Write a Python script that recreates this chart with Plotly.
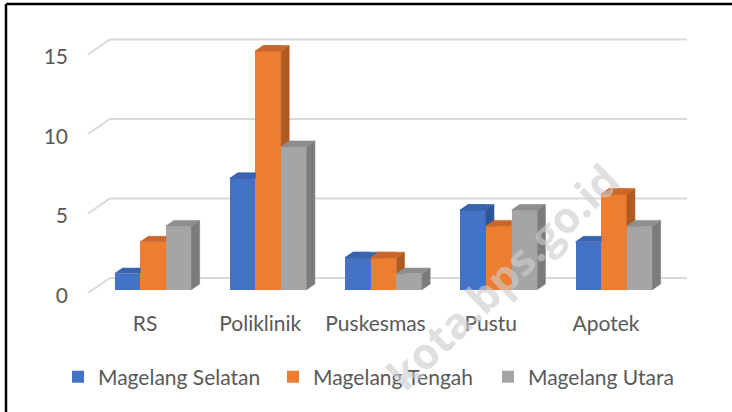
import plotly.graph_objects as go

# ---- data ----
categories = ["RS", "Poliklinik", "Puskesmas", "Pustu", "Apotek"]
series_names = ["Magelang Selatan", "Magelang Tengah", "Magelang Utara"]
selatan = [1, 7, 2, 5, 3]
tengah = [3, 15, 2, 4, 6]
utara = [4, 9, 1, 5, 4]
y_ticks = [0, 5, 10, 15]

series_values = [selatan, tengah, utara]
front_colors = ["#4472C4", "#ED7D31", "#A5A5A5"]
side_colors = ["#2E5597", "#AE5A21", "#7B7B7B"]
top_colors = ["#3A63AE", "#C9672A", "#8E8E8E"]

# ---- geometry (layout / styling) ----
W, H = 732, 412
L, R, T, B = 75, 20, 20, 110
PX0, PX1 = L, W - R
PY0, PY1 = T, H - B
X_ORIGIN_PX, X_STEP_PX = 145.0, 115.25     # category label centre pixel, spacing
Y_ZERO_PX, Y_UNIT_PX = 289.5, 15.9
x_range = [(PX0 - X_ORIGIN_PX) / X_STEP_PX, (PX1 - X_ORIGIN_PX) / X_STEP_PX]
y_range = [(Y_ZERO_PX - PY1) / Y_UNIT_PX, (Y_ZERO_PX - PY0) / Y_UNIT_PX]

bw = 25.7 / X_STEP_PX         # bar width (x units)
group_shift = 0.07
dx = 8.0 / X_STEP_PX          # depth offset
dy = 5.5 / Y_UNIT_PX

grid_front_x = (88 - X_ORIGIN_PX) / X_STEP_PX
grid_back_x = (110 - X_ORIGIN_PX) / X_STEP_PX
grid_right_x = (687 - X_ORIGIN_PX) / X_STEP_PX
grid_front_dy = (Y_ZERO_PX - 293) / Y_UNIT_PX
grid_back_dy = (Y_ZERO_PX - 278) / Y_UNIT_PX


def paper_x(px):
    return (px - PX0) / (PX1 - PX0)


def paper_y(py):
    return (PY1 - py) / (PY1 - PY0)


def clip(poly, inside, intersect):
    out = []
    n = len(poly)
    for k in range(n):
        cur, prev = poly[k], poly[k - 1]
        ci, pi = inside(cur), inside(prev)
        if ci:
            if not pi:
                out.append(intersect(prev, cur))
            out.append(cur)
        elif pi:
            out.append(intersect(prev, cur))
    return out


def clip_y_ge(poly, yv):
    def inter(a, b):
        t = (yv - a[1]) / (b[1] - a[1])
        return (a[0] + t * (b[0] - a[0]), yv)
    return clip(poly, lambda p: p[1] >= yv - 1e-12, inter)


def clip_x_le(poly, xv):
    def inter(a, b):
        t = (xv - a[0]) / (b[0] - a[0])
        return (xv, a[1] + t * (b[1] - a[1]))
    return clip(poly, lambda p: p[0] <= xv + 1e-12, inter)


fig = go.Figure()

# 3D faces (side + top), clipped where the next bar's front face covers them
for j, vals in enumerate(series_values):
    for i, v in enumerate(vals):
        c = i + group_shift + (j - 1) * bw
        xl, xr = c - bw / 2, c + bw / 2
        side = [(xr, 0), (xr + dx, dy), (xr + dx, v + dy), (xr, v)]
        top = [(xl, v), (xr, v), (xr + dx, v + dy), (xl + dx, v + dy)]
        pieces = []
        if j < len(series_values) - 1:
            vn = series_values[j + 1][i]
            p = clip_y_ge(side, vn)
            if len(p) >= 3:
                pieces.append((p, side_colors[j]))
            p1 = clip_x_le(top, xr)
            if len(p1) >= 3:
                pieces.append((p1, top_colors[j]))
            p2 = clip_y_ge(top, vn)
            if len(p2) >= 3:
                pieces.append((p2, top_colors[j]))
        else:
            pieces.append((side, side_colors[j]))
            pieces.append((top, top_colors[j]))
        for poly, col in pieces:
            xs = [p[0] for p in poly] + [poly[0][0]]
            ys = [p[1] for p in poly] + [poly[0][1]]
            fig.add_trace(go.Scatter(
                x=xs, y=ys, mode="lines", fill="toself", fillcolor=col,
                line=dict(color=col, width=0.6), showlegend=False,
                hoverinfo="skip"))

# front faces (bars)
for j, vals in enumerate(series_values):
    fig.add_trace(go.Bar(
        x=[i + group_shift + (j - 1) * bw for i in range(len(categories))],
        y=vals, width=bw, name=series_names[j],
        marker=dict(color=front_colors[j], line=dict(width=0)),
    ))

# gridlines with perspective
shapes = []
for v in y_ticks:
    shapes.append(dict(
        type="path", xref="x", yref="y", layer="below",
        path=f"M{grid_front_x},{v + grid_front_dy} L{grid_back_x},{v + grid_back_dy} L{grid_right_x},{v + grid_back_dy}",
        line=dict(color="#D9D9D9", width=1.8)))

# outer frame (top and left edges visible)
shapes.append(dict(type="line", xref="paper", yref="paper",
                   x0=paper_x(6), x1=paper_x(W + 5), y0=paper_y(4), y1=paper_y(4),
                   line=dict(color="black", width=2.5)))
shapes.append(dict(type="line", xref="paper", yref="paper",
                   x0=paper_x(6), x1=paper_x(6), y0=paper_y(4), y1=paper_y(H + 5),
                   line=dict(color="black", width=2.5)))

font_family = "Lato, 'Open Sans', sans-serif"
txt_col = "#595959"
FS = 21

fig.update_layout(
    width=W, height=H,
    margin=dict(l=L, r=R, t=T, b=B),
    plot_bgcolor="white", paper_bgcolor="white",
    barmode="overlay", bargap=0,
    shapes=shapes,
    font=dict(family=font_family, size=FS, color=txt_col),
    xaxis=dict(range=x_range, tickvals=list(range(len(categories))),
               ticktext=categories, showgrid=False, zeroline=False,
               showline=False, ticks="", ticklabelstandoff=7,
               tickfont=dict(size=FS, color=txt_col)),
    yaxis=dict(range=y_range, tickvals=y_ticks, showgrid=False,
               zeroline=False, showline=False, ticks="",
               ticklabelstandoff=6, ticklabelshift=6,
               tickfont=dict(size=FS, color=txt_col)),
    legend=dict(orientation="h", x=paper_x(58), xanchor="left",
                y=paper_y(377), yanchor="middle",
                font=dict(size=FS, color=txt_col),
                itemwidth=30, traceorder="normal",
                entrywidth=170, entrywidthmode="pixels"),
    annotations=[dict(
        text="kota.bps.go.id", x=paper_x(502), y=paper_y(276),
        xref="paper", yref="paper", showarrow=False, textangle=-44,
        xanchor="center", yanchor="middle",
        font=dict(size=43, color="rgba(205,205,205,0.65)",
                  family="'Open Sans', sans-serif", weight="bold"))],
)

fig.write_html("out.html", config={"displayModeBar": False},
               post_script="document.body.style.margin='0';")
